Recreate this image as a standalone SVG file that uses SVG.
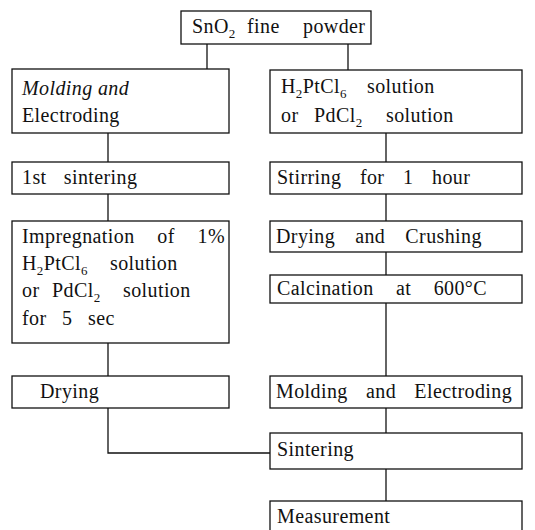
<svg xmlns="http://www.w3.org/2000/svg" width="535" height="530" viewBox="0 0 535 530">
<style>
rect{fill:#fff;stroke:#111;stroke-width:1.3}
.c path{fill:none;stroke:#111;stroke-width:1.3}
text{font-family:"Liberation Serif","Times New Roman",serif;font-size:20px;fill:#111;letter-spacing:0.4px}
.s{font-size:13px}
</style>
<rect x="0" y="0" width="535" height="530" style="stroke:none"/>
<g class="c" id="connectors">
<path d="M207 44V70"/>
<path d="M348 44V70"/>
<path d="M108 133V162"/>
<path d="M386 133V162"/>
<path d="M108 194V221"/>
<path d="M386 194V221"/>
<path d="M386 252V275"/>
<path d="M108 343V376"/>
<path d="M386 303V376"/>
<path d="M386 408V433"/>
<path d="M108 408V453H270"/>
<path d="M386 469V501"/>
</g>
<g id="n-sno2"><rect x="181" y="11" width="190" height="33"/><text x="192" y="33">SnO<tspan class="s" dy="5">2</tspan></text><text x="247" y="33">fine</text><text x="303" y="33">powder</text></g>
<g id="n-mold1"><rect x="12" y="69" width="217" height="64"/><text x="22" y="95" font-style="italic">Molding and</text><text x="22" y="122">Electroding</text></g>
<g id="n-sol"><rect x="270" y="70" width="252" height="63"/><text x="281" y="93">H<tspan class="s" dy="5">2</tspan><tspan dy="-5">PtCl</tspan><tspan class="s" dy="5">6</tspan></text><text x="367" y="93">solution</text><text x="281" y="122">or</text><text x="314" y="122">PdCl<tspan class="s" dy="5">2</tspan></text><text x="386" y="122">solution</text></g>
<g id="n-sint1"><rect x="12" y="162" width="217" height="32"/><text x="22" y="184" word-spacing="11.8">1st sintering</text></g>
<g id="n-stir"><rect x="270" y="162" width="252" height="32"/><text x="277" y="184" word-spacing="13.2">Stirring for 1 hour</text></g>
<g id="n-impr"><rect x="12" y="221" width="217" height="122"/><text x="22" y="243" word-spacing="17.4">Impregnation of 1%</text><text x="22" y="270">H<tspan class="s" dy="5">2</tspan><tspan dy="-5">PtCl</tspan><tspan class="s" dy="5">6</tspan></text><text x="110" y="270">solution</text><text x="22" y="297">or</text><text x="52" y="297">PdCl<tspan class="s" dy="5">2</tspan></text><text x="123" y="297">solution</text><text x="22" y="325" word-spacing="10.2">for 5 sec</text></g>
<g id="n-dryc"><rect x="270" y="221" width="252" height="31"/><text x="276" y="243" word-spacing="14.7">Drying and Crushing</text></g>
<g id="n-calc"><rect x="270" y="275" width="252" height="28"/><text x="277" y="295" word-spacing="17">Calcination at 600°C</text></g>
<g id="n-dry"><rect x="12" y="376" width="217" height="32"/><text x="40" y="398">Drying</text></g>
<g id="n-mold2"><rect x="270" y="376" width="252" height="32"/><text x="276" y="398" word-spacing="12.9">Molding and Electroding</text></g>
<g id="n-sint"><rect x="270" y="433" width="252" height="36"/><text x="277" y="456">Sintering</text></g>
<g id="n-meas"><rect x="270" y="501" width="252" height="40"/><text x="277" y="523">Measurement</text></g>
</svg>
